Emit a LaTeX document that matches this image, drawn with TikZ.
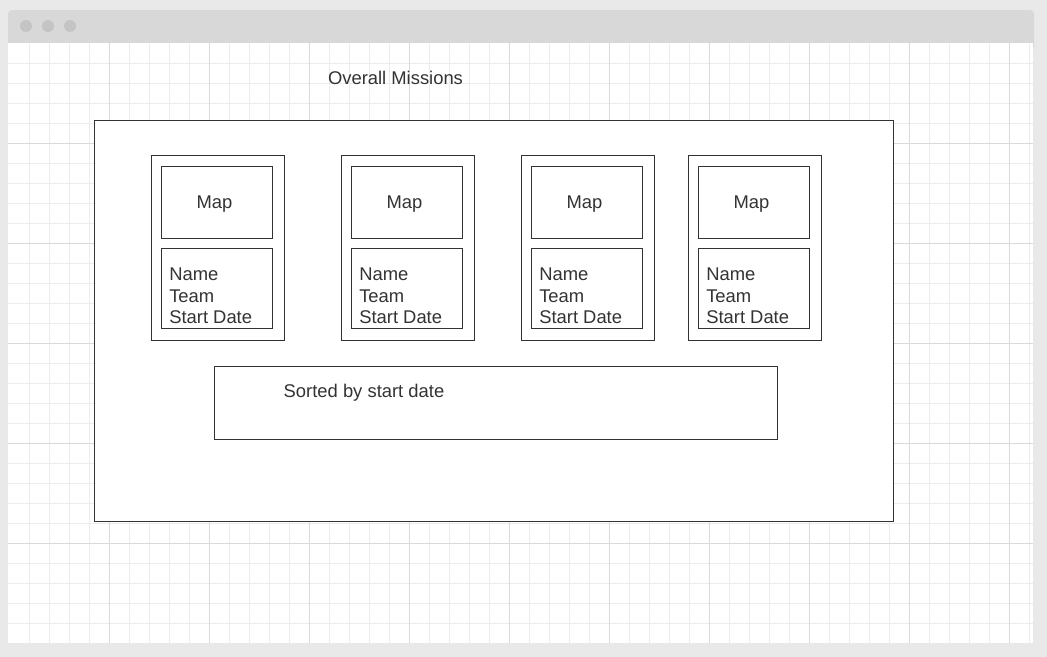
\documentclass[tikz,border=0pt]{standalone}
\usepackage{fontspec}
\setmainfont{Liberation Sans}
\definecolor{pagebg}{HTML}{E9E9E9}
\definecolor{barbg}{HTML}{D8D8D8}
\definecolor{dotgray}{HTML}{C4C4C4}
\definecolor{minorline}{HTML}{ECECEC}
\definecolor{majorline}{HTML}{DADADA}
\definecolor{inkgray}{HTML}{333333}

\tikzset{
  wire/.style={draw=inkgray,line width=0.75pt,fill=white,inner sep=0pt},
  txt/.style={text=inkgray,font=\fontsize{13.8pt}{16.2pt}\selectfont,inner sep=0pt},
  panel/.style={wire,minimum width=599.25pt,minimum height=300.75pt},
  card/.style={wire,minimum width=99.75pt,minimum height=138.75pt},
  mapbox/.style={wire,txt,text depth=0pt,minimum width=83.25pt,minimum height=54pt,
    execute at begin node=\hspace*{-3pt}},
  infobox/.style={wire,minimum width=83.25pt,minimum height=60pt},
  infotext/.style={txt,align=left,anchor=west},
  sortbox/.style={wire,minimum width=422.25pt,minimum height=54.75pt},
  dot/.style={circle,fill=dotgray,inner sep=0pt,minimum size=9pt}
}

\begin{document}
\begin{tikzpicture}[x=0.75pt,y=-0.75pt]
  \useasboundingbox (0,0) rectangle (1047,657);
  \fill[pagebg] (0,0) rectangle (1047,657);

  % window
  \fill[barbg,rounded corners=3pt] (8,10) rectangle (1034,50);
  \fill[white] (8,43) rectangle (1033,643);
  \node[dot] (d1) at (26,26) {};
  \node[dot] (d2) at (48,26) {};
  \node[dot] (d3) at (70,26) {};

  % grid
  \foreach \x in {29,49,...,1029} \draw[minorline,line width=0.75pt] (\x,43) -- (\x,643);
  \foreach \y in {63,83,...,623} \draw[minorline,line width=0.75pt] (8,\y) -- (1033,\y);
  \foreach \x in {109,209,...,1009} \draw[majorline,line width=0.75pt] (\x,43) -- (\x,643);
  \foreach \y in {143,243,...,543} \draw[majorline,line width=0.75pt] (8,\y) -- (1033,\y);

  \node[txt] (title) at (395.5,78) {Overall Missions};

  \node[panel] (main) at (493.5,320.5) {};

  \node[card] (c1) at (217.5,247.5) {};
  \node[mapbox] (m1) at (216.5,202) {Map};
  \node[infobox] (i1) at (216.5,288) {};
  \node[infotext] (t1) at (169,296) {Name\\Team\\Start Date};

  \node[card] (c2) at (407.5,247.5) {};
  \node[mapbox] (m2) at (406.5,202) {Map};
  \node[infobox] (i2) at (406.5,288) {};
  \node[infotext] (t2) at (359,296) {Name\\Team\\Start Date};

  \node[card] (c3) at (587.5,247.5) {};
  \node[mapbox] (m3) at (586.5,202) {Map};
  \node[infobox] (i3) at (586.5,288) {};
  \node[infotext] (t3) at (539,296) {Name\\Team\\Start Date};

  \node[card] (c4) at (754.5,247.5) {};
  \node[mapbox] (m4) at (753.5,202) {Map};
  \node[infobox] (i4) at (753.5,288) {};
  \node[infotext] (t4) at (706,296) {Name\\Team\\Start Date};

  \node[sortbox] (sorted) at (495.5,402.5) {};
  \node[txt] (sortlabel) at (364,393) {Sorted by start date};
\end{tikzpicture}
\end{document}
